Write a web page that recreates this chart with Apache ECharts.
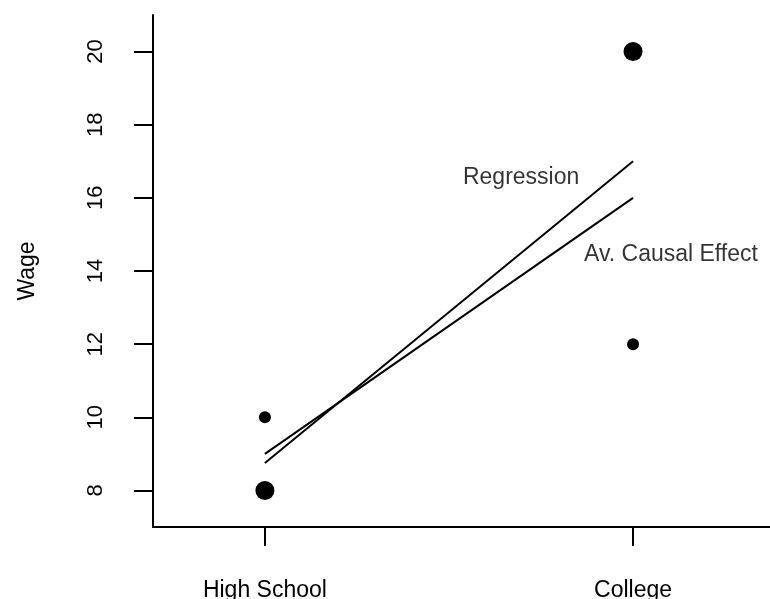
<!DOCTYPE html>
<html><head><meta charset="utf-8">
<script src="https://cdn.jsdelivr.net/npm/echarts@6/dist/echarts.min.js"></script>
<style>html,body{margin:0;padding:0;background:#fff}#c{width:770px;height:599px}</style>
</head><body><div id="c"></div>
<script>
var categories = ['High School', 'College'];
var catPos = [1, 2];
var yTicks = [8, 10, 12, 14, 16, 18, 20];
var bigPoints = [[1, 8], [2, 20]];
var smallPoints = [[1, 10], [2, 12]];
var regression = [[1, 8.75], [2, 17]];
var causal = [[1, 9], [2, 16]];
var lineLabels = [
  {name: 'Regression', value: [1.696, 16.55]},
  {name: 'Av. Causal Effect', value: [2.103, 14.44]}
];
var font = 'Liberation Sans, Arial, Helvetica, sans-serif';
var chart = echarts.init(document.getElementById('c'));
chart.setOption({
  animation: false,
  backgroundColor: '#fff',
  grid: {left: 153, right: 0, top: 15, bottom: 72, containLabel: false, outerBoundsMode: 'none'},
  xAxis: {
    type: 'value', min: 0.696, max: 2.372,
    splitLine: {show: false},
    axisLine: {show: true, onZero: false, lineStyle: {color: '#000', width: 2}},
    axisTick: {show: true, customValues: catPos, length: 19, lineStyle: {color: '#000', width: 2}},
    axisLabel: {customValues: catPos, margin: 52, color: '#000', fontSize: 23, fontFamily: font,
      formatter: function (v) { var i = catPos.indexOf(v); return i >= 0 ? categories[i] : ''; }}
  },
  yAxis: {
    type: 'value', min: 7, max: 21,
    name: 'Wage', nameLocation: 'middle', nameGap: 114, nameRotate: 90,
    nameTextStyle: {color: '#000', fontSize: 23, fontFamily: font},
    splitLine: {show: false},
    axisLine: {show: true, lineStyle: {color: '#000', width: 2}},
    axisTick: {show: true, customValues: yTicks, length: 19, lineStyle: {color: '#000', width: 2}},
    axisLabel: {customValues: yTicks, rotate: 90, margin: 46, color: '#000', fontSize: 22, fontFamily: font}
  },
  series: [
    {type: 'line', data: regression, symbol: 'none', lineStyle: {color: '#000', width: 2}},
    {type: 'line', data: causal, symbol: 'none', lineStyle: {color: '#000', width: 2}},
    {type: 'scatter', data: bigPoints, symbolSize: 19, itemStyle: {color: '#000', opacity: 1}},
    {type: 'scatter', data: smallPoints, symbolSize: 12, itemStyle: {color: '#000', opacity: 1}},
    {type: 'scatter', data: lineLabels, symbolSize: 0,
      label: {show: true, position: 'inside', formatter: '{b}', color: '#000', fontSize: 23, fontFamily: font}}
  ]
});
</script></body></html>
